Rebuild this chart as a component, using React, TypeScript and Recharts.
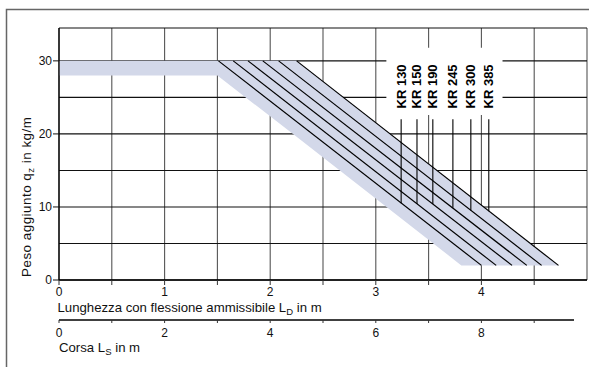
import React from 'react'
import {
  Area,
  CartesianGrid,
  ComposedChart,
  Line,
  ReferenceArea,
  ReferenceDot,
  ReferenceLine,
  XAxis,
  YAxis,
} from 'recharts'

const FONT = '"Liberation Sans", Arial, Helvetica, sans-serif'

// axis ticks
const ldGrid = [0, 0.5, 1, 1.5, 2, 2.5, 3, 3.5, 4, 4.5]
const ldLabels = [0, 1, 2, 3, 4]
const lsTicks = [0, 1, 2, 3, 4, 5, 6, 7, 8, 9]
const lsLabels = [0, 2, 4, 6, 8]
const qGrid = [0, 5, 10, 15, 20, 25, 30]
const qLabels = [0, 10, 20, 30]

// models and their limit lines (L_D where the line leaves 30 kg/m, and where it reaches 2 kg/m)
const models = ['KR 130', 'KR 150', 'KR 190', 'KR 245', 'KR 300', 'KR 385']
const kneeLd = [1.51, 1.65, 1.79, 1.93, 2.08, 2.25]
const endLd = [4.0, 4.14, 4.29, 4.43, 4.57, 4.73]
const qTop = 30
const qBottom = 2

// shaded tolerance band
const bandLd = [0, 1.5, 2.25, 3.81, 4.73]
const bandLow = [28, 28, 19.6, 2, 2]
const bandHigh = [30, 30, 30, 12.4, 2]

// label leaders
const leaderLd = [3.24, 3.39, 3.54, 3.73, 3.9, 4.07]
const leaderEndQ = [10.5, 10.4, 10.4, 9.9, 9.5, 9.4]
const leaderTopQ = 22
const labelQ = 26.5

const bandData = bandLd.map((ld, i) => ({ ld, band: [bandLow[i], bandHigh[i]] }))
const lineData = models.map((_, i) => [
  { ld: kneeLd[i], q: qTop },
  { ld: endLd[i], q: qBottom },
])

const LdTick = (p: any) => {
  const v = p.payload.value
  if (!ldLabels.includes(v)) return <g />
  return (
    <text x={p.x} y={p.y} dy={9} textAnchor="middle" fontSize={12} fill="#111" fontFamily={FONT}>
      {v}
    </text>
  )
}

const LsTick = (p: any) => {
  const v = p.payload.value
  if (!lsLabels.includes(v)) return <g />
  return (
    <text x={p.x} y={p.y} dy={11.5} textAnchor="middle" fontSize={12} fill="#111" fontFamily={FONT}>
      {v}
    </text>
  )
}

const QTick = (p: any) => {
  const v = p.payload.value
  if (!qLabels.includes(v)) return <g />
  return (
    <g>
      <line x1={p.x} x2={p.x + 6} y1={p.y} y2={p.y} stroke="#111" />
      <text x={p.x - 1} y={p.y} dy={4.2} textAnchor="end" fontSize={12} fill="#111" fontFamily={FONT}>
        {v}
      </text>
    </g>
  )
}

const ModelLabel = (text: string) => (p: any) => (
  <text
    x={p.cx}
    y={p.cy}
    transform={`rotate(-90, ${p.cx}, ${p.cy})`}
    textAnchor="middle"
    dominantBaseline="central"
    fontSize={13}
    fontWeight="bold"
    fill="#000"
    fontFamily={FONT}
  >
    {text}
  </text>
)

export default function App() {
  return (
    <div style={{ position: 'absolute', left: 0, top: 0, width: 589, height: 367, background: '#fff' }}>
      <ComposedChart
        width={589}
        height={367}
        data={bandData}
        margin={{ top: 28, right: 2, bottom: 0, left: 0 }}
      >
        <CartesianGrid horizontal={false} stroke="#555" strokeWidth={1.1} />
        <CartesianGrid vertical={false} stroke="#111" strokeWidth={1.1} />
        <XAxis
          dataKey="ld"
          type="number"
          domain={[0, 5]}
          ticks={ldGrid}
          interval={0}
          allowDataOverflow
          height={40}
          tickSize={5}
          tickMargin={2}
          axisLine={{ stroke: '#000', strokeWidth: 1.3 }}
          tickLine={{ stroke: '#333' }}
          tick={LdTick}
        />
        <XAxis
          xAxisId="ls"
          dataKey="ls"
          type="number"
          domain={[0, 10]}
          ticks={lsTicks}
          interval={0}
          allowDataOverflow
          height={47}
          tickSize={3}
          tickMargin={2}
          axisLine={{ stroke: '#000', strokeWidth: 1.3, strokeDasharray: '515 200' }}
          tickLine={{ stroke: '#333' }}
          tick={LsTick}
        />
        <YAxis
          type="number"
          domain={[0, 34.5]}
          ticks={qGrid}
          interval={0}
          allowDataOverflow
          width={59}
          tickSize={6}
          tickMargin={0}
          tickLine={false}
          axisLine={{ stroke: '#000', strokeWidth: 1.3 }}
          tick={QTick}
        />
        <ReferenceArea
          x1={3.1}
          x2={4.2}
          y1={22.6}
          y2={31.8}
          fill="#fff"
          fillOpacity={1}
          stroke="none"
          zIndex={-90}
        />
        <Area
          dataKey="band"
          type="linear"
          fill="#d3d8e9"
          fillOpacity={1}
          stroke="none"
          isAnimationActive={false}
          activeDot={false}
        />
        {models.map((m, i) => (
          <Line
            key={m}
            data={lineData[i]}
            dataKey="q"
            type="linear"
            stroke="#000"
            strokeWidth={1.2}
            dot={false}
            activeDot={false}
            isAnimationActive={false}
          />
        ))}
        {models.map((m, i) => (
          <ReferenceLine
            key={m + '-leader'}
            segment={[
              { x: leaderLd[i], y: leaderTopQ },
              { x: leaderLd[i], y: leaderEndQ[i] },
            ]}
            stroke="#000"
            strokeWidth={1.1}
            zIndex={450}
          />
        ))}
        {models.map((m, i) => (
          <ReferenceDot
            key={m + '-label'}
            x={leaderLd[i]}
            y={labelQ}
            r={0}
            shape={ModelLabel(m)}
            zIndex={2000}
          />
        ))}
      </ComposedChart>
      <svg
        width={589}
        height={367}
        style={{ position: 'absolute', left: 0, top: 0, pointerEvents: 'none', whiteSpace: 'pre' }}
        fontFamily={FONT}
        fill="#111"
      >
        <path d="M6.5 367 V9.5 H589" fill="none" stroke="#666" strokeWidth={1.5} />
        <text transform="translate(30.5, 277) rotate(-90)" fontSize={13.4} letterSpacing={0.5}>
          {'Peso aggiunto  q'}
          <tspan fontSize={9.5} dy={3}>z</tspan>
          <tspan dy={-3}>{' in kg/m'}</tspan>
        </text>
        <text x={57.5} y={311.7} fontSize={13.2}>
          {'Lunghezza con flessione ammissibile L'}
          <tspan fontSize={9.5} dy={3}>D</tspan>
          <tspan dy={-3}>{' in m'}</tspan>
        </text>
        <text x={59} y={351.7} fontSize={13.2}>
          {'Corsa L'}
          <tspan fontSize={9.5} dy={3}>S</tspan>
          <tspan dy={-3}>{' in m'}</tspan>
        </text>
      </svg>
    </div>
  )
}
